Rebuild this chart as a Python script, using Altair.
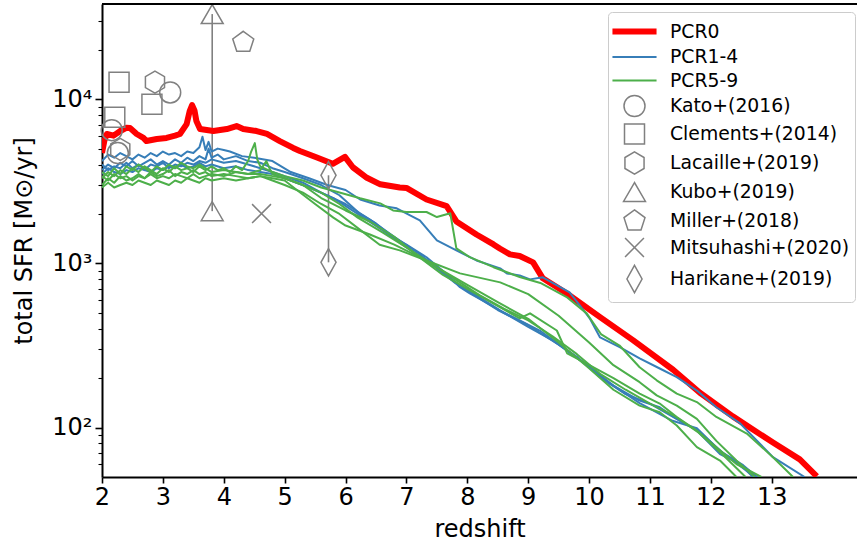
import altair as alt
import pandas as pd

# ---------------- series names / styling ----------------
SERIES = ["PCR0", "PCR1-4", "PCR5-9", "Kato+(2016)", "Clements+(2014)",
          "Lacaille+(2019)", "Kubo+(2019)", "Miller+(2018)",
          "Mitsuhashi+(2020)", "Harikane+(2019)"]
COLORS = ["#ff0000", "#377eb8", "#4daf4a"] + ["#808080"] * 7
LINE_SAMPLE = "M-2.1,0L2.1,0"
HEX = "M0,-1.05L0.91,-0.52L0.91,0.52L0,1.05L-0.91,0.52L-0.91,-0.52Z"
PENT = "M0,-1.05L1.0,-0.32L0.62,0.85L-0.62,0.85L-1.0,-0.32Z"
XMARK = "M-0.9,-0.9L0.9,0.9M-0.9,0.9L0.9,-0.9"
THIN_D = "M0,-1.3L0.72,0L0,1.3L-0.72,0Z"
SHAPES = [LINE_SAMPLE, LINE_SAMPLE, LINE_SAMPLE, "circle", "square", HEX,
          "triangle-up", PENT, XMARK, THIN_D]
WIDTHS = [6, 2, 2, 1.5, 1.5, 1.5, 1.5, 1.5, 1.5, 1.5]
SIZES = [441, 441, 441, 441, 400, 441, 480, 441, 441, 441]

# ---------------- simulation curves ----------------
z_pcr0 = [2.00, 2.04, 2.08, 2.19, 2.30, 2.40, 2.46, 2.57, 2.68, 2.73, 2.90, 3.06, 3.20, 3.28,
          3.39, 3.44, 3.48, 3.52, 3.55, 3.61, 3.83, 4.05, 4.21, 4.32, 4.54, 4.71, 4.92, 5.14,
          5.25, 5.53, 5.79, 5.99, 6.12, 6.35, 6.57, 6.89, 7.00, 7.33, 7.66, 7.82, 8.15, 8.43,
          8.54, 8.70, 8.86, 9.08, 9.24, 9.63, 10.18, 10.72, 11.38, 11.82, 12.36, 13.02, 13.46, 13.74]
sfr_pcr0 = [4700, 5600, 6140, 6000, 6400, 6700, 6670, 6140, 5810, 5560, 5720, 5810, 6000, 6140,
            7050, 8460, 9200, 8500, 7360, 6580, 6400, 6580, 6860, 6580, 6400, 6140, 5560, 5050,
            4840, 4410, 4040, 4450, 3850, 3320, 3030, 2900, 2880, 2450, 2230, 1800, 1500, 1305,
            1228, 1135, 1110, 1014, 811, 658, 471, 341, 225, 163, 117, 81, 64, 50.5]

z_b1 = [2.0, 2.1, 2.2, 2.3, 2.4, 2.5, 2.6, 2.7, 2.8, 2.9, 3.0, 3.1, 3.2, 3.3, 3.4, 3.5, 3.6,
        3.65, 3.7, 3.75, 3.8, 3.9, 4.0, 4.1, 4.3, 4.5, 4.8, 5.1, 5.4, 5.7, 6.0,
        6.24, 6.56, 6.84, 7.06, 7.22, 7.50, 7.82, 8.15, 8.54, 8.65, 8.86, 9.03, 9.24, 9.68,
        9.85, 10.01, 10.18, 10.51, 10.83, 11.16, 11.44, 11.77, 12.09, 12.48, 13.02, 13.54]
sfr_b1 = [4200, 4600, 4400, 4700, 4500, 4300, 4600, 4400, 4700, 4500, 4800, 4600, 4700, 4500,
          4800, 4700, 5100, 5900, 4900, 5500, 4800, 5000, 4900, 4800, 4500, 4400, 4200, 3600,
          3300, 3000, 2800, 2450, 2250, 2165, 1960, 1830, 1380, 1200, 1042, 933, 869, 845, 799,
          822, 666, 554, 463, 354, 308, 264, 229, 203, 168, 133, 106, 66, 50]

z_b2 = [2.0, 2.1, 2.2, 2.3, 2.4, 2.5, 2.6, 2.7, 2.8, 2.9, 3.0, 3.1, 3.2, 3.3, 3.4, 3.5, 3.6,
        3.7, 3.75, 3.8, 3.9, 4.0, 4.2, 4.4, 4.6, 4.8, 5.0, 5.3, 5.6, 5.9, 6.24, 6.5, 6.78,
        7.0, 7.33, 7.6, 7.88, 8.04, 8.3, 8.54, 8.86, 9.19, 9.64, 10.01, 10.34, 10.83, 11.16,
        11.44, 11.77, 12.15, 12.48, 12.69]
sfr_b2 = [3700, 4000, 3800, 4100, 3900, 4200, 3900, 4100, 4300, 4000, 4200, 4000, 4300, 4100,
          4400, 4200, 4500, 4300, 5000, 4400, 4600, 4300, 4500, 4200, 4100, 3800, 3600, 3300,
          3000, 2600, 2000, 1750, 1445, 1300, 1090, 900, 716, 656, 580, 516, 449, 390, 295,
          232, 185, 146, 133, 113, 96, 69, 60, 50]

z_b3 = [2.0, 2.1, 2.2, 2.3, 2.4, 2.5, 2.6, 2.7, 2.8, 2.9, 3.0, 3.1, 3.2, 3.3, 3.4, 3.5, 3.6,
        3.7, 3.8, 4.0, 4.2, 4.4, 4.6, 4.8, 5.0, 5.3, 5.6, 6.0, 6.4, 6.8, 7.2, 7.6, 8.0, 8.5,
        9.0, 9.5, 10.0, 10.4, 10.83, 11.37, 11.77, 12.15, 12.53, 12.76]
sfr_b3 = [4000, 3700, 3900, 3800, 4100, 3800, 4000, 3700, 4000, 3900, 4100, 3800, 4000, 3900,
          4100, 4000, 4200, 4100, 4300, 4100, 4200, 4000, 3800, 3600, 3400, 3100, 2700, 2300,
          1850, 1450, 1150, 880, 680, 520, 420, 320, 235, 180, 141, 110, 99, 72, 59, 50]

z_b4 = [2.0, 2.1, 2.2, 2.3, 2.4, 2.5, 2.6, 2.7, 2.8, 2.9, 3.0, 3.1, 3.2, 3.3, 3.4, 3.5, 3.6,
        3.7, 3.8, 4.0, 4.2, 4.4, 4.6, 4.8, 5.0, 5.4, 5.8, 6.2, 6.6, 7.0, 7.4, 7.8, 8.2, 8.6,
        9.0, 9.4, 9.8, 10.2, 10.6, 11.0, 11.4, 11.8, 12.2, 12.72]
sfr_b4 = [3500, 3800, 3600, 3500, 3700, 3600, 3800, 3700, 3600, 3800, 3700, 3900, 3800, 4000,
          3800, 3900, 4100, 3900, 4000, 3800, 3900, 3700, 3600, 3500, 3300, 2900, 2500, 2000,
          1600, 1250, 1000, 760, 620, 500, 410, 340, 270, 200, 160, 140, 115, 95, 70, 50]

z_g1 = [2.0, 2.1, 2.2, 2.3, 2.4, 2.5, 2.6, 2.7, 2.8, 2.9, 3.0, 3.1, 3.2, 3.3, 3.4, 3.5, 3.6,
        3.7, 3.8, 3.9, 4.0, 4.1, 4.2, 4.3, 4.4, 4.45, 4.51, 4.55, 4.6, 4.8, 5.0, 5.3, 5.6,
        5.9, 6.24, 6.57, 6.78, 7.0, 7.33, 7.5, 7.72, 7.82, 8.04, 8.43, 8.86, 9.2, 9.64, 9.96,
        10.2, 10.5, 10.83, 11.11, 11.44, 11.77, 12.09, 12.59, 13.02, 13.35]
sfr_g1 = [3300, 3600, 3400, 3700, 3500, 3800, 3600, 3900, 3700, 3500, 3800, 3600, 3900, 3700,
          3800, 3600, 3900, 3700, 3900, 3700, 3800, 3600, 3900, 3700, 4200, 4800, 5400, 4300,
          3900, 3600, 3400, 3200, 2900, 2700, 2490, 2320, 2100, 2055, 2055, 1915, 2020, 1234,
          1091, 948, 826, 760, 621, 496, 369, 316, 233, 194, 161, 143, 116, 92, 66, 50]

z_g2 = [2.0, 2.1, 2.2, 2.3, 2.4, 2.5, 2.6, 2.7, 2.8, 2.9, 3.0, 3.1, 3.2, 3.3, 3.4, 3.5, 3.6,
        3.7, 3.8, 4.0, 4.2, 4.4, 4.6, 4.8, 5.0, 5.3, 5.6, 5.9, 6.24, 6.56, 6.89, 7.33, 7.88,
        8.54, 9.0, 9.5, 10.0, 10.4, 10.83, 11.11, 11.44, 11.77, 12.09, 12.42, 12.72]
sfr_g2 = [3000, 3300, 3100, 3400, 3200, 3300, 3500, 3300, 3600, 3400, 3500, 3700, 3400, 3600,
          3500, 3700, 3500, 3600, 3400, 3500, 3400, 3300, 3400, 3200, 3000, 2700, 2300, 2000,
          1600, 1300, 1200, 1042, 869, 766, 650, 480, 330, 240, 189, 157, 136, 113, 83, 63, 50]

z_g3 = [2.0, 2.1, 2.2, 2.3, 2.4, 2.5, 2.6, 2.7, 2.8, 2.9, 3.0, 3.1, 3.2, 3.3, 3.4, 3.5, 3.6,
        3.7, 3.8, 4.0, 4.2, 4.4, 4.6, 4.8, 5.0, 5.3, 5.6, 6.0, 6.4, 6.8, 7.2, 7.6, 8.0, 8.54,
        8.86, 9.03, 9.47, 9.64, 9.96, 10.4, 10.83, 11.16, 11.44, 11.77, 12.09, 12.42, 12.83]
sfr_g3 = [3600, 3400, 3800, 3500, 3900, 3700, 4000, 3800, 3600, 3900, 3700, 4000, 3800, 4100,
          3900, 3800, 4000, 3800, 3600, 3700, 3600, 3500, 3500, 3400, 3300, 3000, 2500, 2100,
          1800, 1450, 1100, 850, 700, 540, 462, 496, 390, 283, 245, 200, 161, 140, 116, 96, 76,
          60, 50]

z_g4 = [2.0, 2.1, 2.2, 2.3, 2.4, 2.5, 2.6, 2.7, 2.8, 2.9, 3.0, 3.1, 3.2, 3.3, 3.4, 3.5, 3.6,
        3.7, 3.8, 4.0, 4.2, 4.4, 4.6, 4.8, 5.0, 5.2, 5.5, 5.8, 6.0, 6.4, 6.8, 7.2, 7.6, 8.0,
        8.5, 9.0, 9.5, 10.0, 10.4, 10.83, 11.16, 11.44, 11.77, 12.15, 12.42]
sfr_g4 = [2900, 3100, 2900, 3000, 3100, 3000, 3200, 3100, 3000, 3200, 3100, 3000, 3200, 3100,
          3300, 3200, 3100, 3300, 3200, 3300, 3200, 3300, 3400, 3300, 3200, 2800, 2300, 1900,
          1700, 1500, 1300, 1100, 900, 740, 580, 460, 330, 230, 170, 136, 124, 103, 76, 63, 50]

z_g5 = [2.0, 2.1, 2.2, 2.3, 2.4, 2.5, 2.6, 2.7, 2.8, 2.9, 3.0, 3.1, 3.2, 3.3, 3.4, 3.5, 3.6,
        3.7, 3.8, 4.0, 4.2, 4.4, 4.6, 4.7, 4.75, 4.8, 5.0, 5.3, 5.6, 5.9, 6.2, 6.6, 7.0, 7.4,
        7.8, 8.2, 8.6, 9.0, 9.4, 9.8, 10.2, 10.6, 11.0, 11.4, 11.8, 12.2, 12.57]
sfr_g5 = [3400, 3200, 3500, 3300, 3400, 3200, 3400, 3300, 3500, 3300, 3400, 3300, 3500, 3400,
          3300, 3500, 3300, 3400, 3500, 3400, 3600, 3500, 3700, 4200, 3800, 3500, 3300, 3000,
          2700, 2300, 1900, 1550, 1250, 1000, 800, 640, 530, 450, 360, 280, 210, 170, 140, 118,
          93, 68, 50]

# ---------------- observations ----------------
kato_z, kato_sfr = [2.16, 2.26, 3.12], [6480, 4700, 10990]
clements_z, clements_sfr = [2.21, 2.28, 2.82], [7760, 12700, 9320]
lacaille_z, lacaille_sfr = [2.30, 2.87], [4950, 12700]
kubo_z, kubo_sfr = [3.81, 3.81], [33000, 2080]
miller_z, miller_sfr = [4.32], [22200]
mitsuhashi_z, mitsuhashi_sfr = [4.62], [2010]
harikane_z, harikane_sfr = [5.72, 5.72], [3440, 1015]
err_z, err_lo, err_hi = [3.81, 5.72], [2080, 1015], [33000, 3440]

# ---------------- tables ----------------
def rows(series, run, zs, vs):
    assert len(zs) == len(vs), run
    return [{"series": series, "run": run, "z": a, "sfr": b} for a, b in zip(zs, vs)]

line_rows = []
line_rows += rows("PCR0", "r0", z_pcr0, sfr_pcr0)
for i, (zz, vv) in enumerate([(z_b1, sfr_b1), (z_b2, sfr_b2), (z_b3, sfr_b3), (z_b4, sfr_b4)]):
    line_rows += rows("PCR1-4", f"b{i}", zz, vv)
for i, (zz, vv) in enumerate([(z_g1, sfr_g1), (z_g2, sfr_g2), (z_g3, sfr_g3),
                              (z_g4, sfr_g4), (z_g5, sfr_g5)]):
    line_rows += rows("PCR5-9", f"g{i}", zz, vv)
lines_df = pd.DataFrame(line_rows)

obs_rows = []
for name, zz, vv in [("Kato+(2016)", kato_z, kato_sfr), ("Clements+(2014)", clements_z, clements_sfr),
                     ("Lacaille+(2019)", lacaille_z, lacaille_sfr), ("Kubo+(2019)", kubo_z, kubo_sfr),
                     ("Miller+(2018)", miller_z, miller_sfr),
                     ("Mitsuhashi+(2020)", mitsuhashi_z, mitsuhashi_sfr),
                     ("Harikane+(2019)", harikane_z, harikane_sfr)]:
    obs_rows += rows(name, name, zz, vv)
obs_df = pd.DataFrame(obs_rows)
err_df = pd.DataFrame({"z": err_z, "lo": err_lo, "hi": err_hi})

# ---------------- encodings ----------------
W, H = 755, 473
XMAX = 14.4

def leg():
    return alt.Legend(title=None, orient="none", legendX=506, legendY=8)

color_scale = alt.Scale(domain=SERIES, range=COLORS)
width_scale = alt.Scale(type="ordinal", domain=SERIES, range=WIDTHS)
shape_scale = alt.Scale(domain=SERIES, range=SHAPES)
size_scale = alt.Scale(type="ordinal", domain=SERIES, range=SIZES)

major = "datum.value == 100 || datum.value == 1000 || datum.value == 10000"
y_ticks = [60, 70, 80, 90, 100, 200, 300, 400, 500, 600, 700, 800, 900,
           1000, 2000, 3000, 4000, 5000, 6000, 7000, 8000, 9000, 10000, 20000, 30000]

x_enc = alt.X("z:Q", scale=alt.Scale(domain=[2, XMAX], nice=False, zero=False),
              axis=alt.Axis(values=list(range(2, 14)), title="redshift", format="d",
                            labelFlush=False, tickSize=6, labelPadding=2, titlePadding=8))
y_enc = alt.Y("sfr:Q", scale=alt.Scale(type="log", domain=[50, 38000], nice=False),
              axis=alt.Axis(values=y_ticks, title="total SFR [M⊙/yr]",
                            labelExpr="datum.value == 100 ? '10²' : datum.value == 1000 ? '10³' : datum.value == 10000 ? '10⁴' : ''",
                            labelOverlap=False, labelBound=False, labelFlush=False,
                            tickSize={"condition": {"test": major, "value": 7}, "value": 4},
                            tickWidth={"condition": {"test": major, "value": 1.6}, "value": 1.1},
                            labelPadding=3, titlePadding=15))

def line_layer(name):
    return alt.Chart(lines_df[lines_df["series"] == name]).mark_line(
        clip=True, strokeJoin="round", strokeCap="butt").encode(
        x=x_enc, y=y_enc,
        color=alt.Color("series:N", scale=color_scale, legend=leg()),
        strokeWidth=alt.StrokeWidth("series:N", scale=width_scale, legend=leg()),
        detail="run:N",
    )

errbars = alt.Chart(err_df).mark_rule(color="#808080", strokeWidth=1.6).encode(
    x="z:Q", y="lo:Q", y2="hi:Q")

points = alt.Chart(obs_df).mark_point(filled=False, opacity=1).encode(
    x=x_enc, y=y_enc,
    color=alt.Color("series:N", scale=color_scale, legend=leg()),
    shape=alt.Shape("series:N", scale=shape_scale, legend=leg()),
    size=alt.Size("series:N", scale=size_scale, legend=leg()),
    strokeWidth=alt.StrokeWidth("series:N", scale=width_scale, legend=leg()),
)

top_spine = alt.Chart(pd.DataFrame({"k": [0]})).mark_rule(color="black", strokeWidth=2).encode(
    x=alt.value(0), x2=alt.value(W), y=alt.value(0))

chart = alt.layer(
    errbars, line_layer("PCR0"), line_layer("PCR1-4"), line_layer("PCR5-9"), points, top_spine
).properties(
    width=W, height=H,
    autosize=alt.AutoSizeParams(type="none"),
    padding={"left": 102, "top": 4, "right": 0, "bottom": 70},
).configure_view(stroke=None).configure_axis(
    grid=False, domainColor="black", domainWidth=2, tickColor="black", tickWidth=1.6,
    labelFont="DejaVu Sans", labelFontSize=24, labelColor="black",
    titleFont="DejaVu Sans", titleFontSize=24, titleFontWeight="normal", titleColor="black",
).configure_legend(
    padding=6, labelFont="DejaVu Sans", labelFontSize=18.8, labelColor="black", labelLimit=400,
    strokeColor="#cccccc", fillColor="rgba(255,255,255,0.85)", cornerRadius=4,
    rowPadding=1.5, labelOffset=22, symbolOffset=7, symbolFillColor="transparent", symbolLimit=0,
)

chart.save("out.html", embed_options={"renderer": "svg", "actions": False})
